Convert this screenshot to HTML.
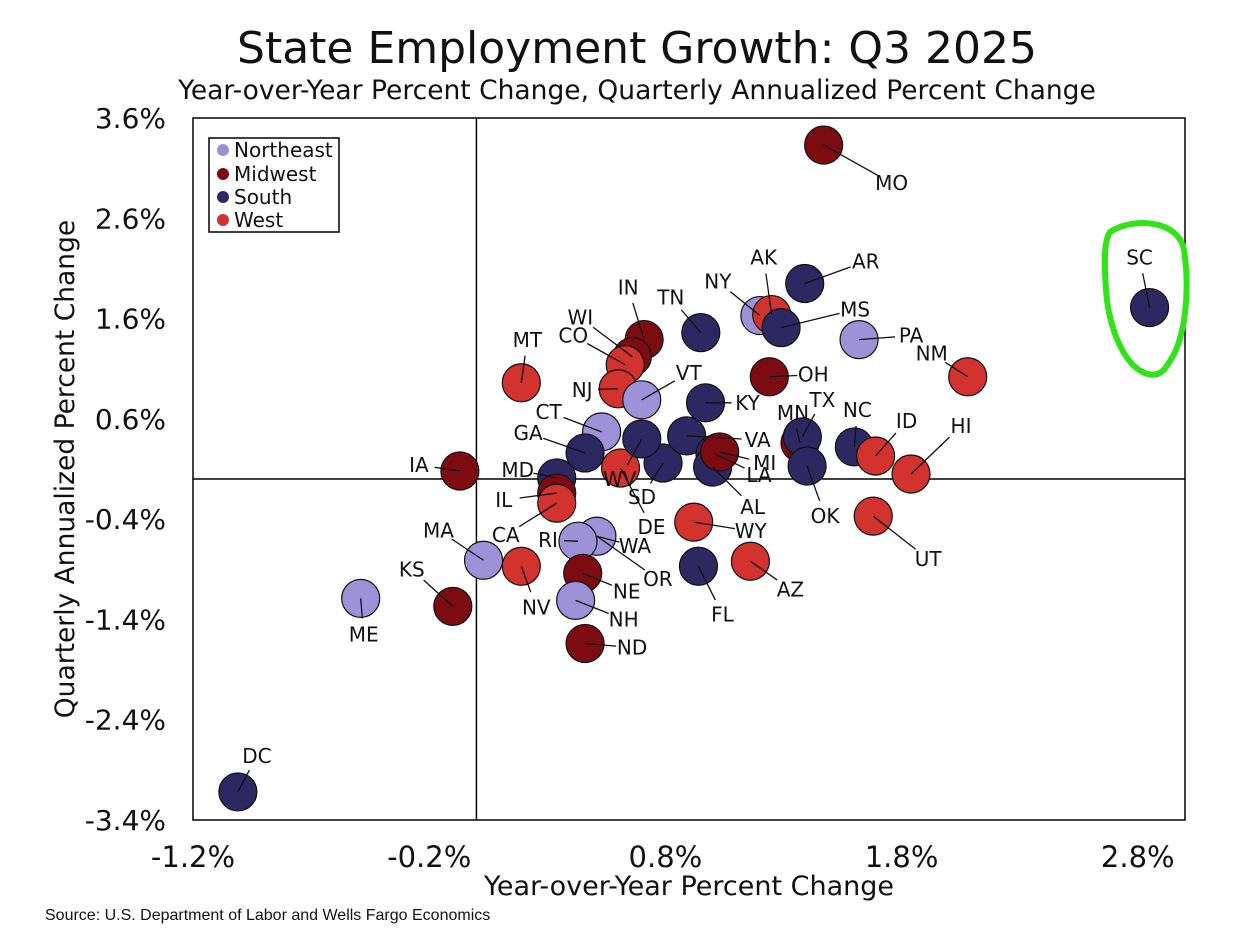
<!DOCTYPE html>
<html><head><meta charset="utf-8"><style>
body{margin:0;background:#fff}
svg text{font-family:"DejaVu Sans","Liberation Sans",sans-serif;fill:#111}
</style></head><body>
<svg width="1234" height="943" viewBox="0 0 1234 943">
<text x="637" y="63" font-size="44" text-anchor="middle">State Employment Growth: Q3 2025</text>
<text x="637" y="99" font-size="26.5" text-anchor="middle">Year-over-Year Percent Change, Quarterly Annualized Percent Change</text>
<rect x="193" y="118" width="992" height="702" fill="none" stroke="#000" stroke-width="1.5"/>
<g id="axes"></g>
<g id="marks"></g>
<g>
<rect x="209" y="138" width="130" height="94" fill="#fff" stroke="#000" stroke-width="1.5"/>
<circle cx="223" cy="150" r="6" fill="#9d92d8"/><text x="234" y="157" font-size="20">Northeast</text>
<circle cx="223" cy="174" r="6" fill="#7d0c12"/><text x="234" y="181" font-size="20">Midwest</text>
<circle cx="223" cy="197" r="6" fill="#2d2862"/><text x="234" y="204" font-size="20">South</text>
<circle cx="223" cy="220" r="6" fill="#d3332e"/><text x="234" y="227" font-size="20">West</text>
</g>
<text x="689" y="895" font-size="27" text-anchor="middle">Year-over-Year Percent Change</text>
<text transform="translate(74,469) rotate(-90)" font-size="26.5" text-anchor="middle">Quarterly Annualized Percent Change</text>
<text x="45" y="920" font-size="16" style="font-family:'Liberation Sans',sans-serif">Source: U.S. Department of Labor and Wells Fargo Economics</text>
<path d="M1110 232 C1130 218 1178 218 1184 250 C1190 290 1186 340 1168 364 C1160 378 1148 378 1134 366 C1118 350 1108 320 1106 290 C1104 262 1104 240 1110 232 Z" fill="none" stroke="#33e31a" stroke-width="6"/>
</svg>
<script>
const states=["MO","AR","NY","AK","MS","PA","SC","NM","TN","IN","WI","MT","CO","NJ","VT","OH","KY","CT","GA","SD","DE","WV","VA","LA","AL","MI","MN","TX","NC","OK","ID","HI","UT","IA","MD","IL","CA","WY","AZ","FL","OR","WA","RI","MA","NV","NE","NH","ND","KS","ME","DC"];
const regions=["MW","S","NE","W","S","NE","S","W","S","MW","MW","W","W","W","NE","MW","S","NE","S","S","W","S","S","S","S","MW","MW","S","S","S","W","W","W","MW","S","MW","W","W","W","S","W","NE","NE","NE","W","MW","NE","MW","MW","NE","S"];
const yoy=[1.47,1.39,1.20,1.25,1.29,1.62,2.85,2.08,0.95,0.71,0.66,0.19,0.63,0.60,0.70,1.24,0.97,0.53,0.46,0.79,0.61,0.70,0.89,1.01,1.00,1.03,1.37,1.38,1.60,1.40,1.69,1.84,1.68,-0.07,0.34,0.34,0.34,0.92,1.16,0.94,0.51,0.51,0.43,0.03,0.19,0.45,0.42,0.46,-0.10,-0.49,-1.01];
const qtr=[3.33,1.95,1.63,1.64,1.51,1.39,1.71,1.02,1.46,1.39,1.22,0.96,1.14,0.90,0.79,1.02,0.76,0.47,0.26,0.16,0.11,0.40,0.43,0.25,0.12,0.27,0.36,0.42,0.32,0.13,0.23,0.05,-0.37,0.08,0.01,-0.14,-0.24,-0.43,-0.82,-0.87,-0.57,-0.57,-0.62,-0.81,-0.87,-0.94,-1.21,-1.64,-1.27,-1.19,-3.12];
const xTicks=["-1.2%","-0.2%","0.8%","1.8%","2.8%"];
const yTicks=["3.6%","2.6%","1.6%","0.6%","-0.4%","-1.4%","-2.4%","-3.4%"];
const labelOffsets={MO:[68,38],AR:[61,-22],AK:[-8,-57],NY:[-42,-34],MS:[74,-18],PA:[52,-4],SC:[-10,-50],NM:[-36,-23],TN:[-30,-35],IN:[-16,-52],WI:[-52,-39],MT:[6,-43],CO:[-52,-29],NJ:[-36,1],VT:[47,-27],OH:[44,-2],KY:[42,0],CT:[-53,-20],GA:[-57,-20],MD:[-39,-8],IA:[-41,-6],IL:[-53,7],CA:[-51,32],WV:[-22,40],DE:[31,59],SD:[-21,34],VA:[71,4],MI:[45,11],AL:[40,40],LA:[44,21],MN:[-7,-30],TX:[20,-37],NC:[3,-37],ID:[31,-35],HI:[50,-48],OK:[18,50],UT:[55,43],WY:[57,9],AZ:[40,28],FL:[24,48],WA:[38,10],OR:[61,43],RI:[-30,-1],MA:[-45,-30],NV:[15,41],NE:[44,18],NH:[48,19],ND:[47,4],KS:[-41,-37],ME:[3,36],DC:[19,-36]};
const colors={NE:"#9d92d8",MW:"#7d0c12",S:"#2d2862",W:"#d3332e"};
const NS="http://www.w3.org/2000/svg";
const xS=v=>193+(v+1.2)*(992/4.2);
const yS=v=>118+(3.6-v)*(702/7);
function mk(t,a,p){const e=document.createElementNS(NS,t);for(const k in a)e.setAttribute(k,a[k]);p.appendChild(e);return e;}
const ax=document.getElementById('axes');
xTicks.forEach(t=>{const v=parseFloat(t);const e=mk('text',{x:xS(v),y:867,'font-size':29,'text-anchor':'middle'},ax);e.textContent=t;

});
yTicks.forEach(t=>{const v=parseFloat(t);const e=mk('text',{x:166,y:yS(v)+10,'font-size':28,'text-anchor':'end'},ax);e.textContent=t;

});
const zx=mk('line',{x1:xS(0),x2:xS(0),y1:118,y2:820,stroke:'#000','stroke-width':1.5},ax);


const zy=mk('line',{x1:193,x2:1185,y1:yS(0),y2:yS(0),stroke:'#000','stroke-width':1.5},ax);


const mg=document.getElementById('marks');
states.forEach((s,i)=>{const cx=xS(yoy[i]),cy=yS(qtr[i]);
const c=mk('circle',{cx:cx,cy:cy,r:19,fill:colors[regions[i]],stroke:'#111','stroke-width':1.2},mg);

});
states.forEach((s,i)=>{const cx=xS(yoy[i]),cy=yS(qtr[i]);const o=labelOffsets[s]||[30,-30];
const d=Math.hypot(o[0],o[1]);const k=Math.max(0,(d-16)/d);
const ln=mk('line',{x1:cx,y1:cy,x2:cx+o[0]*k,y2:cy+o[1]*k,stroke:'#111','stroke-width':1.3},mg);


const t=mk('text',{x:cx+o[0],y:cy+o[1]+7,'font-size':20,'text-anchor':'middle'},mg);t.textContent=s;

});
</script>
</body></html>
